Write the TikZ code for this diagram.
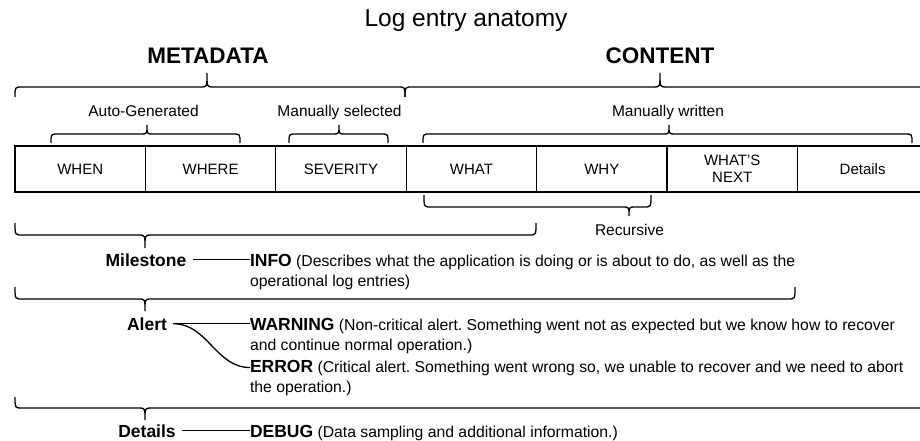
\documentclass[tikz,border=0pt]{standalone}
\usepackage{fontspec}
\setmainfont{Liberation Sans}
\usetikzlibrary{positioning}
\frenchspacing
\newcommand{\logbrace}[6]{\draw (#1,#4) .. controls (#1,#5) .. (#1+7,#5) -- (#3-6,#5) .. controls (#3,#5) .. (#3,#6) .. controls (#3,#5) .. (#3+6,#5) -- (#2-7,#5) .. controls (#2,#5) .. (#2,#4);}
\newcommand{\lvl}[1]{{\fontsize{17.5}{20}\selectfont\bfseries #1}}
\begin{document}
\begin{tikzpicture}[x=1pt, y=-1pt, line width=1.3pt, every node/.style={inner sep=0pt, outer sep=0pt, font=\fontsize{15.5}{17}\selectfont}, field/.style={draw, minimum width=130.4pt, minimum height=46pt, align=center, font=\fontsize{15}{17}\selectfont}, heading/.style={anchor=base, font=\fontsize{22.5}{26}\selectfont\bfseries}, note/.style={anchor=base}, kind/.style={anchor=base, inner xsep=6.5pt, font=\fontsize{17.5}{20}\selectfont\bfseries}, desc/.style={anchor=base west, font=\fontsize{15.75}{18}\selectfont}]
	\useasboundingbox (0,0) rectangle (920,441);
	\node (title) [anchor=base, font=\fontsize{24.5}{28}\selectfont] at (466,27) {Log entry anatomy};
	\node (meta) [heading] at (208,63.5) {METADATA};
	\node (content) [heading] at (660,63.5) {CONTENT};
	\logbrace{15}{405}{207}{97}{87}{73}
	\logbrace{405}{935}{660}{97}{87}{73}
	\node (auto) [note] at (143.5,117) {Auto-Generated};
	\node (selected) [note] at (339.5,117) {Manually selected};
	\node (written) [note] at (668,117) {Manually written};
	\logbrace{51}{240}{147}{143}{134}{125}
	\logbrace{289}{388}{339}{143}{134}{125}
	\logbrace{423}{912}{669}{143}{134}{125}
	\node (when) [field, anchor=north west] at (15,146) {WHEN};
	\node (where) [field, right=0pt of when] {WHERE};
	\node (severity) [field, right=0pt of where] {SEVERITY};
	\node (what) [field, right=0pt of severity] {WHAT};
	\node (why) [field, right=0pt of what] {WHY};
	\node (next) [field, right=0pt of why] {WHAT’S\\NEXT};
	\node (details) [field, right=0pt of next] {Details};
	\logbrace{424}{651}{629}{195}{207}{216}
	\node (recursive) [note] at (629.5,235) {Recursive};
	\logbrace{15}{536}{145}{223}{235}{248}
	\node (milestone) [kind] at (146,266) {Milestone};
	\node (info) [desc] at (250,266) {\lvl{INFO} (Describes what the application is doing or is about to do, as well as the};
	\node (infob) [desc] at (250,286) {operational log entries)};
	\draw (milestone.east) -- (milestone.east -| info.west);
	\logbrace{15}{795}{145}{287}{299}{311}
	\node (alert) [kind] at (147,330) {Alert};
	\node (warning) [desc] at (250,330) {\lvl{WARNING} (Non-critical alert. Something went not as expected but we know how to recover};
	\node (warningb) [desc] at (250,350) {and continue normal operation.)};
	\node (error) [desc] at (250,372) {\lvl{ERROR} (Critical alert. Something went wrong so, we unable to recover and we need to abort};
	\node (errorb) [desc] at (250,392) {the operation.)};
	\draw (alert.east) -- (alert.east -| warning.west);
	\draw (alert.east) to[out=0, in=180] (error.west);
	\logbrace{15}{935}{145}{397}{408}{420}
	\node (debuglabel) [kind] at (147,437) {Details};
	\node (debug) [desc] at (250,437) {\lvl{DEBUG} (Data sampling and additional information.)};
	\draw (debuglabel.east) -- (debuglabel.east -| debug.west);
\end{tikzpicture}
\end{document}
